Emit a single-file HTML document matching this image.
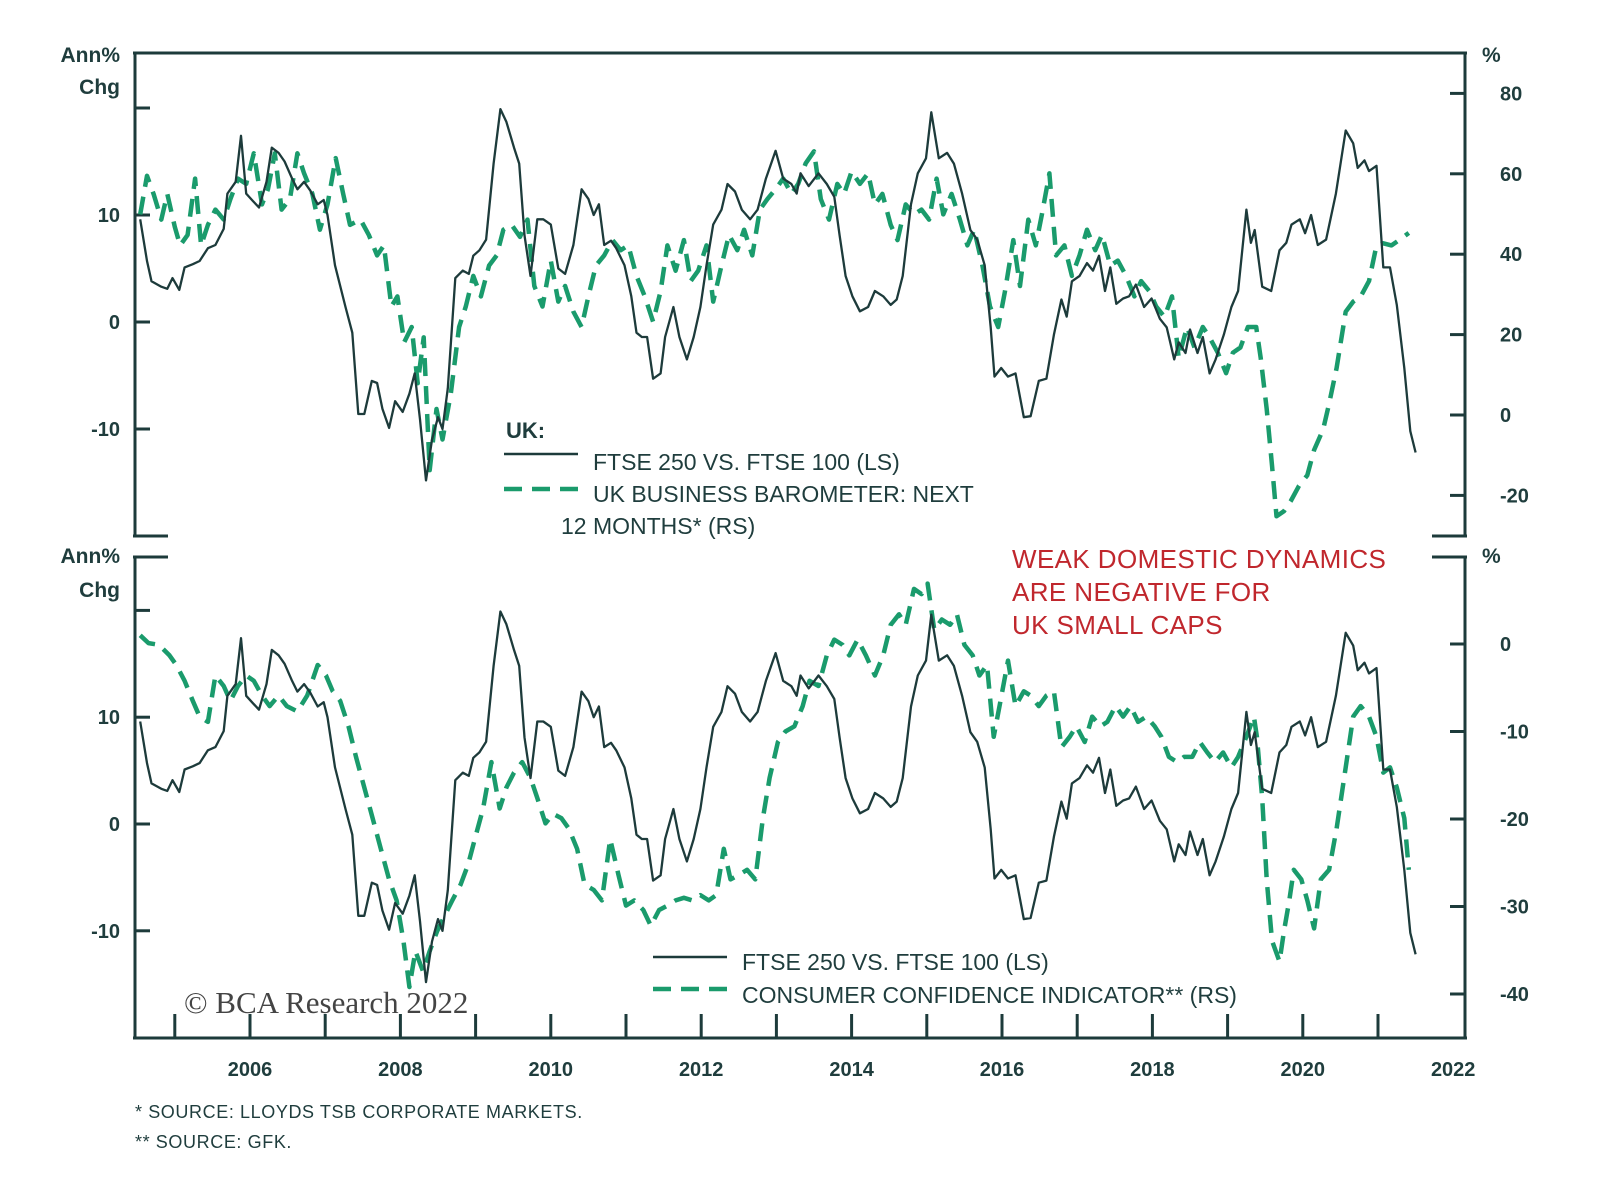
<!DOCTYPE html>
<html><head><meta charset="utf-8"><style>
body{margin:0;background:#fff}
svg text{font-family:"Liberation Sans",sans-serif}
</style></head><body>
<svg id="c" width="1600" height="1186" viewBox="0 0 1600 1186" xmlns="http://www.w3.org/2000/svg">
<g id="frame" stroke="#1d3b3b" stroke-width="3" fill="none">
<line x1="133" y1="53" x2="1467" y2="53"/>
<line x1="135" y1="53" x2="135" y2="536"/>
<line x1="1465" y1="53" x2="1465" y2="536"/>
<line x1="133" y1="536" x2="168" y2="536"/>
<line x1="1432" y1="536" x2="1467" y2="536"/>
<line x1="133" y1="557" x2="168" y2="557"/>
<line x1="1432" y1="557" x2="1467" y2="557"/>
<line x1="135" y1="557" x2="135" y2="1039"/>
<line x1="1465" y1="557" x2="1465" y2="1039"/>
<line x1="133" y1="1038" x2="1467" y2="1038"/>
</g>
<g id="axes"></g>
<g id="series"></g>
<g fill="#1f3d3d" font-weight="bold" font-size="21">
<text x="120" y="62" text-anchor="end">Ann%</text>
<text x="120" y="94" text-anchor="end">Chg</text>
<text x="120" y="563" text-anchor="end">Ann%</text>
<text x="120" y="597" text-anchor="end">Chg</text>
<text x="1482" y="62">%</text>
<text x="1482" y="563">%</text>
</g>
<g fill="#1f3d3d" font-size="23">
<text x="506" y="438" font-weight="bold" font-size="22">UK:</text>
<line x1="504" y1="454" x2="578" y2="454" stroke="#1d3b3b" stroke-width="2.5"/>
<text x="593" y="470">FTSE 250 VS. FTSE 100 (LS)</text>
<line x1="504" y1="489" x2="578" y2="489" stroke="#1a9b6c" stroke-width="4.5" stroke-dasharray="18 10"/>
<text x="593" y="502">UK BUSINESS BAROMETER: NEXT</text>
<text x="561" y="534">12 MONTHS* (RS)</text>
</g>
<g fill="#c0272d" font-size="26" letter-spacing="0.4">
<text x="1012" y="568">WEAK DOMESTIC DYNAMICS</text>
<text x="1012" y="601">ARE NEGATIVE FOR</text>
<text x="1012" y="634">UK SMALL CAPS</text>
</g>
<g fill="#1f3d3d" font-size="23">
<line x1="653" y1="957" x2="727" y2="957" stroke="#1d3b3b" stroke-width="2.5"/>
<text x="742" y="970">FTSE 250 VS. FTSE 100 (LS)</text>
<line x1="653" y1="989" x2="727" y2="989" stroke="#1a9b6c" stroke-width="4.5" stroke-dasharray="18 10"/>
<text x="742" y="1003">CONSUMER CONFIDENCE INDICATOR** (RS)</text>
</g>
<text x="184" y="1013" font-size="31" fill="#444" style="font-family:'Liberation Serif',serif">© BCA Research 2022</text>
<g fill="#1f3d3d" font-size="18" letter-spacing="0.6">
<text x="135" y="1118">*  SOURCE: LLOYDS TSB CORPORATE MARKETS.</text>
<text x="135" y="1148">** SOURCE: GFK.</text>
</g>
</svg>
<script>
const ftseYears=[2004.54,2004.63,2004.69,2004.82,2004.90,2004.97,2005.06,2005.13,2005.24,2005.33,2005.44,2005.54,2005.65,2005.70,2005.81,2005.88,2005.95,2006.04,2006.12,2006.22,2006.29,2006.38,2006.46,2006.56,2006.63,2006.72,2006.80,2006.90,2006.98,2007.03,2007.13,2007.27,2007.36,2007.44,2007.52,2007.62,2007.69,2007.76,2007.85,2007.93,2008.03,2008.12,2008.19,2008.26,2008.34,2008.42,2008.50,2008.56,2008.63,2008.73,2008.83,2008.91,2008.97,2009.05,2009.14,2009.24,2009.33,2009.41,2009.51,2009.58,2009.65,2009.73,2009.82,2009.90,2010.00,2010.10,2010.19,2010.30,2010.41,2010.50,2010.57,2010.64,2010.71,2010.80,2010.87,2010.98,2011.07,2011.14,2011.21,2011.28,2011.36,2011.46,2011.52,2011.63,2011.71,2011.81,2011.90,2011.99,2012.07,2012.16,2012.27,2012.35,2012.45,2012.54,2012.65,2012.75,2012.86,2012.99,2013.09,2013.20,2013.27,2013.32,2013.43,2013.56,2013.67,2013.77,2013.84,2013.92,2014.01,2014.11,2014.22,2014.31,2014.42,2014.52,2014.60,2014.68,2014.79,2014.88,2014.99,2015.06,2015.16,2015.27,2015.36,2015.47,2015.58,2015.67,2015.77,2015.85,2015.90,2015.99,2016.08,2016.18,2016.29,2016.38,2016.49,2016.59,2016.69,2016.79,2016.86,2016.93,2017.03,2017.13,2017.21,2017.29,2017.37,2017.44,2017.52,2017.61,2017.69,2017.78,2017.89,2017.99,2018.10,2018.19,2018.29,2018.35,2018.44,2018.50,2018.60,2018.67,2018.76,2018.84,2018.95,2019.05,2019.14,2019.25,2019.31,2019.36,2019.46,2019.58,2019.69,2019.78,2019.85,2019.96,2020.03,2020.11,2020.20,2020.31,2020.44,2020.57,2020.67,2020.73,2020.82,2020.88,2020.98,2021.07,2021.16,2021.25,2021.35,2021.43,2021.50];
const ftseValues=[9.6,5.7,3.8,3.3,3.1,4.1,3.0,5.1,5.4,5.7,6.9,7.2,8.7,12.0,13.1,17.4,12.0,11.3,10.7,13.1,16.3,15.8,15.0,13.4,12.4,13.1,12.3,11.0,11.4,10.0,5.3,1.4,-1.0,-8.6,-8.6,-5.5,-5.7,-8.1,-9.9,-7.4,-8.4,-6.7,-4.8,-9.1,-14.8,-11.0,-8.9,-10.0,-6.2,4.1,4.8,4.5,6.2,6.7,7.7,14.8,19.9,18.7,16.3,14.8,8.1,4.3,9.6,9.6,9.1,5.0,4.5,7.2,12.4,11.5,10.0,11.0,7.2,7.6,6.9,5.3,2.4,-1.0,-1.4,-1.4,-5.3,-4.8,-1.4,1.4,-1.4,-3.5,-1.4,1.4,5.3,9.1,10.5,12.9,12.2,10.5,9.6,10.5,13.4,16.0,13.4,12.9,12.0,13.9,12.7,13.9,12.9,11.7,8.1,4.3,2.4,1.0,1.4,2.9,2.4,1.6,2.1,4.3,11.0,13.9,15.3,19.6,15.3,15.8,14.8,12.0,8.6,7.7,5.3,-0.5,-5.1,-4.3,-5.1,-4.8,-8.9,-8.8,-5.5,-5.3,-1.2,2.1,0.5,3.8,4.3,5.5,4.8,6.2,2.9,5.1,1.7,2.2,2.4,3.5,1.4,2.2,0.3,-0.5,-3.5,-1.9,-2.9,-0.7,-2.9,-1.4,-4.8,-3.5,-1.2,1.4,2.9,10.5,7.4,8.6,3.3,2.9,6.7,7.4,9.1,9.6,8.3,10.0,7.2,7.7,12.0,17.9,16.7,14.4,15.1,14.1,14.6,5.1,5.1,1.6,-4.3,-10.2,-12.2];
const baroYears=[2004.54,2004.63,2004.72,2004.82,2004.90,2005.0,2005.07,2005.17,2005.27,2005.35,2005.44,2005.54,2005.65,2005.74,2005.84,2005.95,2006.05,2006.16,2006.24,2006.33,2006.42,2006.53,2006.63,2006.72,2006.83,2006.93,2007.03,2007.14,2007.24,2007.33,2007.47,2007.58,2007.69,2007.78,2007.88,2007.96,2008.05,2008.15,2008.23,2008.31,2008.39,2008.48,2008.56,2008.67,2008.78,2008.87,2008.97,2009.07,2009.18,2009.28,2009.37,2009.48,2009.59,2009.69,2009.78,2009.89,2010.0,2010.10,2010.19,2010.30,2010.41,2010.50,2010.60,2010.71,2010.82,2010.93,2011.03,2011.14,2011.25,2011.36,2011.46,2011.55,2011.66,2011.77,2011.86,2011.96,2012.07,2012.16,2012.27,2012.37,2012.48,2012.57,2012.68,2012.78,2012.88,2012.99,2013.09,2013.20,2013.29,2013.39,2013.50,2013.59,2013.70,2013.81,2013.90,2014.0,2014.11,2014.22,2014.31,2014.41,2014.52,2014.61,2014.72,2014.83,2014.93,2015.03,2015.13,2015.22,2015.33,2015.44,2015.54,2015.63,2015.74,2015.84,2015.95,2016.04,2016.15,2016.24,2016.35,2016.45,2016.53,2016.63,2016.72,2016.83,2016.93,2017.03,2017.13,2017.24,2017.33,2017.44,2017.54,2017.65,2017.76,2017.85,2017.96,2018.05,2018.16,2018.26,2018.35,2018.46,2018.56,2018.67,2018.76,2018.87,2018.98,2019.07,2019.17,2019.27,2019.38,2019.44,2019.52,2019.59,2019.65,2019.75,2019.84,2019.95,2020.06,2020.15,2020.27,2020.35,2020.45,2020.57,2020.67,2020.77,2020.88,2020.98,2021.07,2021.18,2021.28,2021.41];
const baroValues=[49.9,59.5,54.9,48.6,55.0,46.8,42.2,44.8,58.8,42.2,47.3,51.1,48.6,53.7,58.8,57.5,65.1,52.4,56.2,65.1,51.1,53.7,65.1,60.1,55.0,46.1,52.4,63.9,55.0,47.3,48.6,44.8,39.7,42.2,27.0,29.5,18.1,21.9,7.9,19.3,-13.7,1.5,-6.1,5.3,21.9,27.0,34.6,29.5,37.2,39.7,46.1,47.3,44.3,48.6,32.1,27.0,38.4,28.2,32.1,25.7,21.9,29.5,37.2,39.7,43.5,41.0,42.2,34.6,29.5,23.2,30.8,42.2,35.9,43.5,33.3,35.9,42.2,28.2,37.2,44.8,41.0,46.1,39.7,51.1,53.7,56.2,58.8,55.0,57.5,62.6,65.6,53.7,48.6,57.5,55.0,60.6,57.5,60.1,52.4,55.0,47.3,43.5,52.4,49.9,51.1,48.6,58.8,49.9,55.0,48.6,42.2,46.1,37.2,27.0,21.9,30.8,43.5,32.1,48.6,42.2,49.9,60.1,39.7,42.2,34.6,39.7,46.1,41.0,44.8,37.2,38.4,34.6,29.5,33.3,30.8,27.0,24.4,29.5,14.2,21.9,16.8,21.9,19.3,15.5,10.4,15.5,16.8,21.9,21.9,14.2,1.5,-12.5,-25.2,-23.9,-21.4,-17.6,-15.0,-8.7,-3.6,2.8,11.7,25.7,28.2,29.5,33.3,42.2,42.7,42.2,43.5,45.3];
const consYears=[2004.54,2004.65,2004.79,2004.93,2005.02,2005.13,2005.24,2005.33,2005.44,2005.54,2005.65,2005.74,2005.84,2005.95,2006.05,2006.16,2006.26,2006.38,2006.49,2006.63,2006.76,2006.90,2007.01,2007.10,2007.20,2007.31,2007.41,2007.52,2007.63,2007.74,2007.85,2007.95,2008.04,2008.12,2008.20,2008.30,2008.39,2008.49,2008.59,2008.69,2008.80,2008.90,2008.99,2009.10,2009.21,2009.32,2009.41,2009.51,2009.62,2009.73,2009.82,2009.93,2010.03,2010.14,2010.24,2010.35,2010.45,2010.57,2010.68,2010.79,2010.90,2011.00,2011.11,2011.23,2011.33,2011.44,2011.55,2011.66,2011.77,2011.88,2011.99,2012.10,2012.20,2012.30,2012.39,2012.50,2012.61,2012.72,2012.82,2012.91,2013.02,2013.12,2013.24,2013.35,2013.44,2013.56,2013.67,2013.77,2013.88,2013.97,2014.08,2014.19,2014.31,2014.42,2014.52,2014.63,2014.72,2014.83,2014.93,2015.01,2015.10,2015.20,2015.31,2015.40,2015.50,2015.61,2015.70,2015.80,2015.89,2015.98,2016.08,2016.18,2016.29,2016.38,2016.49,2016.59,2016.69,2016.79,2016.90,2016.99,2017.10,2017.20,2017.31,2017.40,2017.51,2017.61,2017.71,2017.81,2017.92,2018.03,2018.12,2018.22,2018.33,2018.42,2018.53,2018.63,2018.73,2018.83,2018.94,2019.05,2019.14,2019.25,2019.35,2019.39,2019.46,2019.52,2019.59,2019.69,2019.75,2019.82,2019.88,2019.98,2020.06,2020.15,2020.24,2020.35,2020.45,2020.57,2020.67,2020.77,2020.88,2020.98,2021.07,2021.16,2021.25,2021.35,2021.41];
const consValues=[1.0,0.1,-0.1,-1.3,-2.4,-4.2,-6.5,-8.3,-8.9,-3.6,-4.8,-6.5,-4.8,-3.6,-4.2,-5.9,-7.1,-5.9,-7.1,-7.7,-5.9,-2.4,-3.6,-5.4,-6.5,-9.4,-12.9,-16.4,-19.9,-23.4,-26.9,-29.3,-33.9,-39.2,-35.1,-37.4,-35.1,-32.8,-31.0,-29.3,-27.5,-25.2,-22.3,-18.8,-13.5,-18.8,-16.4,-14.7,-13.5,-15.3,-17.6,-20.5,-19.4,-19.9,-21.1,-23.4,-27.5,-28.1,-29.3,-22.3,-26.4,-29.9,-29.3,-30.4,-32.2,-30.4,-29.9,-29.3,-29.0,-29.3,-28.7,-29.3,-28.7,-23.4,-26.9,-26.4,-25.8,-26.9,-19.9,-15.3,-11.2,-10.0,-9.4,-7.1,-4.2,-4.8,-1.3,0.5,-0.1,-1.3,0.5,-1.3,-3.6,-1.3,2.2,3.4,2.2,6.3,5.7,6.9,1.6,2.8,2.2,3.4,-0.1,-1.3,-3.6,-2.4,-10.6,-6.5,-1.9,-7.1,-5.4,-5.9,-7.1,-5.9,-5.4,-11.8,-10.6,-9.4,-11.2,-8.3,-9.4,-8.9,-7.1,-8.3,-7.1,-8.9,-8.3,-9.4,-10.6,-12.9,-13.5,-12.9,-12.9,-11.2,-12.4,-13.5,-12.4,-14.1,-12.9,-10.6,-8.3,-10.6,-17.6,-26.9,-33.9,-36.3,-32.8,-29.3,-25.8,-26.9,-29.3,-32.5,-26.9,-25.8,-21.1,-14.1,-8.3,-7.1,-8.3,-10.6,-14.7,-14.1,-16.4,-19.9,-25.8];
const yearTicks=[2006,2008,2010,2012,2014,2016,2018,2020,2022];
const leftTicks=[20,10,0,-10];
const leftLabels=["","10","0","-10"];
const rightTopTicks=[80,60,40,20,0,-20];
const rightBotTicks=[0,-10,-20,-30,-40];

const NS="http://www.w3.org/2000/svg";
const xS=y=>250+(y-2006)*75.2;
const yTL=v=>322-10.7*v;
const yTR=v=>415-4.02*v;
const yBL=v=>824-10.68*v;
const yBR=v=>644-8.75*v;
function mk(tag,attrs,parent){const e=document.createElementNS(NS,tag);for(const k in attrs)e.setAttribute(k,attrs[k]);parent.appendChild(e);return e;}
const axes=document.getElementById('axes');
const ser=document.getElementById('series');
const tc="#1d3b3b";
leftTicks.forEach((t,i)=>{
  [yTL,yBL].forEach(f=>{
    const l=mk('line',{x1:135,x2:150,y1:f(t),y2:f(t),stroke:tc,'stroke-width':3},axes);
    
    
    if(leftLabels[i]){const tx=mk('text',{x:120,y:f(t)+7,'text-anchor':'end','font-size':20,'font-weight':'bold',fill:'#1f3d3d'},axes);tx.textContent=leftLabels[i];
    
    }
  });
});
function rt(ticks,f){ticks.forEach(t=>{
  const l=mk('line',{x1:1450,x2:1465,y1:f(t),y2:f(t),stroke:tc,'stroke-width':3},axes);
  
  
  const tx=mk('text',{x:1500,y:f(t)+7,'font-size':20,'font-weight':'bold',fill:'#1f3d3d'},axes);tx.textContent=String(t);
  
  
});}
rt(rightTopTicks,yTR);rt(rightBotTicks,yBR);
for(let y=2005;y<=2021;y++){
  const l=mk('line',{x1:xS(y),x2:xS(y),y1:1038,y2:1014,stroke:tc,'stroke-width':3},axes);
  
  
}
yearTicks.forEach(y=>{
  const tx=mk('text',{x:xS(y),y:1076,'text-anchor':'middle','font-size':20,'font-weight':'bold',fill:'#1f3d3d'},axes);tx.textContent=String(y);
  
  
});
function path(xs,vs,fy,dashed,name){
  const d=xs.map((x,i)=>(i?'L':'M')+xS(x).toFixed(1)+','+fy(vs[i]).toFixed(1)).join('');
  const p=mk('path',{d:d,fill:'none',stroke:dashed?'#1a9b6c':'#1d3b3b','stroke-width':dashed?4.5:2.3,'stroke-dasharray':dashed?'18 10':'none','stroke-linejoin':'round'},ser);
  
  
}
path(baroYears,baroValues,yTR,true,'business-barometer-line');
path(ftseYears,ftseValues,yTL,false,'ftse-relative-line-top');
path(consYears,consValues,yBR,true,'consumer-confidence-line');
path(ftseYears,ftseValues,yBL,false,'ftse-relative-line-bottom');
</script>
</body></html>
